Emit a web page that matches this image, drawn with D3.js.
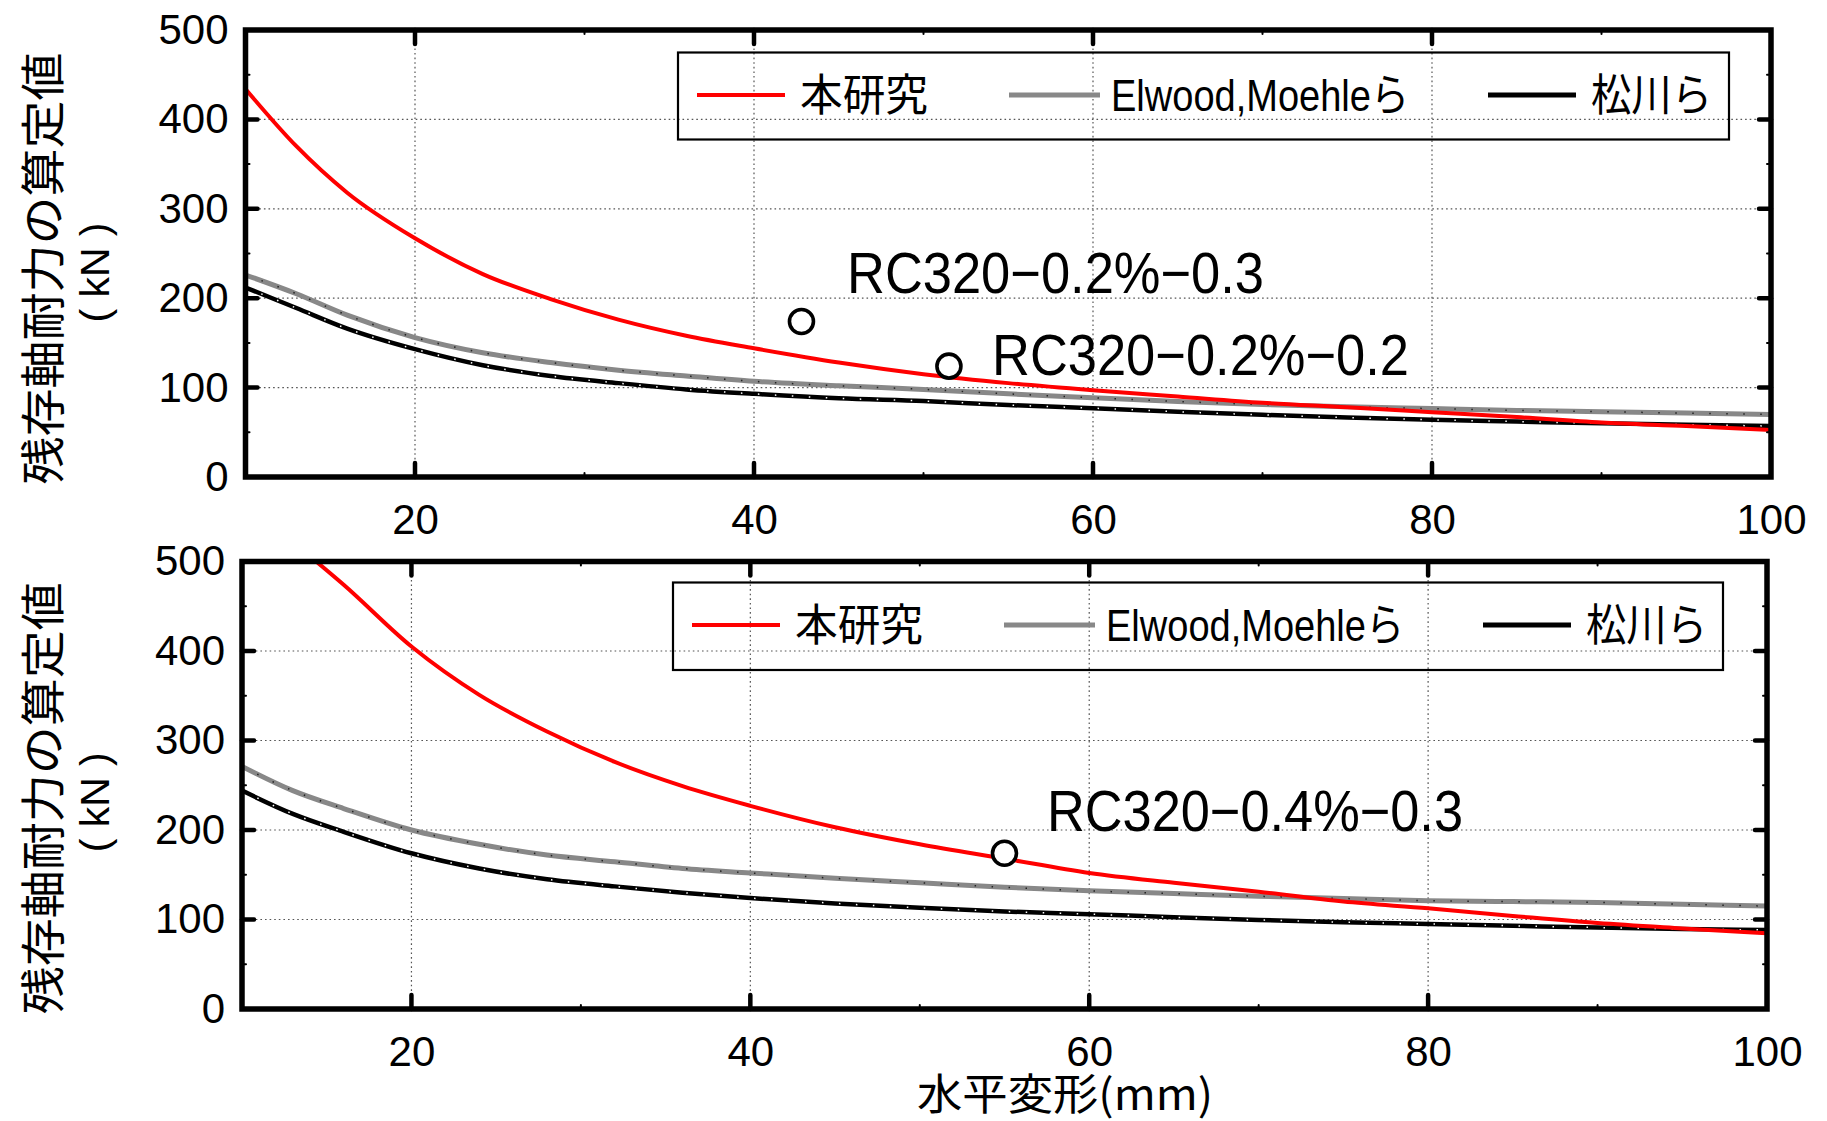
<!DOCTYPE html>
<html><head><meta charset="utf-8">
<script src="https://cdn.jsdelivr.net/npm/d3@7"></script>
<style>body{margin:0;background:#fff}svg{display:block}</style>
</head><body>
<svg id="c" width="1827" height="1121"></svg>
<script>
// ---------- data ----------
const xTickLabels = [20, 40, 60, 80, 100];
const yTickLabels = [0, 100, 200, 300, 400, 500];
const seriesNames = ["本研究", "Elwood,Moehleら", "松川ら"];

const xs = [10,13,16,20,24,28,32,36,40,45,50,55,60,65,70,75,80,85,90,95,100];

// top panel
const topRed   = [434,370,318,267,227,199,176,158,144,128,115,105,97,90,83,78,72.5,67,61,57,52.5];
const topGray  = [226,205,181,156,139,128,119.5,113,107,102,98,93,88.7,84.5,81,78.5,76.5,74.5,73,71.5,70];
const topBlack = [212,189,166,143,125,113,105,98,93,88,85,80.5,77,73,69.5,66.5,64,62,60,58.5,57];
const topPointsX = [42.8, 51.5];
const topPointsY = [174, 124];
const topLabels = ["RC320−0.2%−0.3", "RC320−0.2%−0.2"];

// bottom panel
const botRedX  = [14,16,20,24,28,32,36,40,45,50,55,60,65,70,75,80,85,90,95,100];
const botRed   = [506,474,405,351,310,276,249,227,203,184,168,152,141,131,120,112.5,104,96,90,84.5];
const botGray  = [271,244,224,200,184,172,164.5,157,152,146,141,136,132,129,126,123.5,121,120,119,117,115];
const botBlack = [244,218,198,174,157,145,137,130,124,118,113,109,106,102.5,99.5,97,95,93,91,89.5,88.3];
const botPointsX = [55];
const botPointsY = [174];
const botLabels = ["RC320−0.4%−0.3"];

// ---------- drawing ----------
const svg = d3.select("#c");
const FONT = "'Liberation Sans', Arial, 'Noto Sans CJK JP', sans-serif";
const JFONT = "'Noto Sans CJK JP', 'Liberation Sans', sans-serif";

function panel(cfg, idx) {
  const x = d3.scaleLinear().domain([10, 100]).range([cfg.left, cfg.right]);
  const y = d3.scaleLinear().domain([0, 500]).range([cfg.bottom, cfg.top]);
  const g = svg.append("g");
  const clipId = "clip" + idx;
  g.append("clipPath").attr("id", clipId).append("rect")
    .attr("x", cfg.left).attr("y", cfg.top)
    .attr("width", cfg.right - cfg.left).attr("height", cfg.bottom - cfg.top);

  // grid
  const grid = g.append("g").attr("stroke", "#555").attr("stroke-width", 1.2)
    .attr("stroke-dasharray", "1.6,3");
  [20, 40, 60, 80].forEach(v => grid.append("line")
    .attr("x1", x(v)).attr("x2", x(v)).attr("y1", cfg.top).attr("y2", cfg.bottom));
  [100, 200, 300, 400].forEach(v => grid.append("line")
    .attr("x1", cfg.left).attr("x2", cfg.right).attr("y1", y(v)).attr("y2", y(v)));

  // legend box
  const L = cfg.legend;
  g.append("rect").attr("x", L.x).attr("y", L.y).attr("width", L.w).attr("height", L.h)
    .attr("fill", "none").attr("stroke", "#000").attr("stroke-width", 2.2);
  const legColors = ["#ff0000", "#888888", "#000000"];
  const legWidths = [4, 5, 5];
  const legLine = [[L.x + 19, L.x + 107], [L.x + 331, L.x + 422], [L.x + 810, L.x + 898]];
  const legText = [[L.x + 122, 128], [L.x + 433, 298], [L.x + 913, 121]];
  const ly = L.y + 42.5;
  seriesNames.forEach((n, i) => {
    g.append("line").attr("x1", legLine[i][0]).attr("x2", legLine[i][1])
      .attr("y1", ly).attr("y2", ly).attr("stroke", legColors[i]).attr("stroke-width", legWidths[i]);
    g.append("text").attr("x", legText[i][0]).attr("y", ly + 16)
      .attr("font-family", FONT).attr("font-size", 44)
      .attr("textLength", legText[i][1]).attr("lengthAdjust", "spacingAndGlyphs")
      .text(n);
  });

  // series
  const line = d3.line().x(d => x(d[0])).y(d => y(d[1])).curve(d3.curveMonotoneX);
  const lg = g.append("g").attr("clip-path", `url(#${clipId})`).attr("fill", "none");
  const mk = (xa, ya) => xa.map((v, i) => [v, ya[i]]);
  lg.append("path").attr("d", line(mk(xs, cfg.gray))).attr("stroke", "#888").attr("stroke-width", 5);
  lg.append("path").attr("d", line(mk(xs, cfg.gray))).attr("stroke", "#222").attr("stroke-width", 1.5)
    .attr("stroke-dasharray", "1.5,15.5");
  lg.append("path").attr("d", line(mk(xs, cfg.black))).attr("stroke", "#000").attr("stroke-width", 4.5);
  lg.append("path").attr("d", line(mk(xs, cfg.black))).attr("stroke", "#fff").attr("stroke-width", 1.5)
    .attr("stroke-dasharray", "1.5,15.5");
  lg.append("path").attr("d", line(mk(cfg.redX, cfg.red))).attr("stroke", "#ff0000").attr("stroke-width", 4);

  // points
  cfg.px.forEach((v, i) => {
    g.append("circle").attr("cx", x(v)).attr("cy", y(cfg.py[i])).attr("r", 12)
      .attr("fill", "#fff").attr("stroke", "#000").attr("stroke-width", 3.6);
  });
  // annotations
  cfg.ann.forEach(a => {
    g.append("text").attr("x", a.x).attr("y", a.y).attr("font-family", FONT)
      .attr("font-size", 58).attr("textLength", a.w).attr("lengthAdjust", "spacingAndGlyphs")
      .text(a.t);
  });

  // frame
  g.append("rect").attr("x", cfg.left).attr("y", cfg.top)
    .attr("width", cfg.right - cfg.left).attr("height", cfg.bottom - cfg.top)
    .attr("fill", "none").attr("stroke", "#000").attr("stroke-width", 5.5);

  // ticks
  const tk = g.append("g").attr("stroke", "#000").attr("stroke-linecap", "round");
  [20, 40, 60, 80].forEach(v => {
    tk.append("line").attr("x1", x(v)).attr("x2", x(v)).attr("y1", cfg.bottom).attr("y2", cfg.bottom - 14).attr("stroke-width", 4.5);
    tk.append("line").attr("x1", x(v)).attr("x2", x(v)).attr("y1", cfg.top).attr("y2", cfg.top + 14).attr("stroke-width", 4.5);
  });
  [30, 50, 70, 90].forEach(v => {
    tk.append("line").attr("x1", x(v)).attr("x2", x(v)).attr("y1", cfg.bottom).attr("y2", cfg.bottom - 4).attr("stroke-width", 2);
    tk.append("line").attr("x1", x(v)).attr("x2", x(v)).attr("y1", cfg.top).attr("y2", cfg.top + 4).attr("stroke-width", 2);
  });
  [100, 200, 300, 400].forEach(v => {
    tk.append("line").attr("x1", cfg.left).attr("x2", cfg.left + 12).attr("y1", y(v)).attr("y2", y(v)).attr("stroke-width", 4.5);
    tk.append("line").attr("x1", cfg.right).attr("x2", cfg.right - 12).attr("y1", y(v)).attr("y2", y(v)).attr("stroke-width", 4.5);
  });
  [50, 150, 250, 350, 450].forEach(v => {
    tk.append("line").attr("x1", cfg.left).attr("x2", cfg.left + 4).attr("y1", y(v)).attr("y2", y(v)).attr("stroke-width", 2);
    tk.append("line").attr("x1", cfg.right).attr("x2", cfg.right - 4).attr("y1", y(v)).attr("y2", y(v)).attr("stroke-width", 2);
  });

  // axis labels via d3 axes
  const ax = g.append("g").attr("transform", `translate(0,${cfg.bottom})`)
    .call(d3.axisBottom(x).tickValues(xTickLabels).tickSize(0).tickPadding(27));
  const ay = g.append("g").attr("transform", `translate(${cfg.left},0)`)
    .call(d3.axisLeft(y).tickValues(yTickLabels).tickSize(0).tickPadding(17));
  [ax, ay].forEach(a => {
    a.select(".domain").remove();
    a.selectAll("text").attr("font-family", FONT).attr("font-size", 42).attr("fill", "#000");
  });

  // y title
  const cy = (cfg.top + cfg.bottom) / 2 + cfg.yTitleShift;
  g.append("text").attr("transform", `translate(${60},${cy}) rotate(-90)`)
    .attr("text-anchor", "middle").attr("font-family", JFONT).attr("font-size", 45)
    .attr("textLength", 432).attr("lengthAdjust", "spacingAndGlyphs").text("残存軸耐力の算定値");
  g.append("text").attr("transform", `translate(${109},${cy + 4}) rotate(-90)`)
    .attr("text-anchor", "middle").attr("font-family", FONT).attr("font-size", 41)
    .attr("textLength", 100).attr("lengthAdjust", "spacingAndGlyphs")
    .attr("xml:space", "preserve").text("( kN )");
}

panel({
  left: 245.5, right: 1771, top: 30, bottom: 477,
  red: topRed, redX: xs, gray: topGray, black: topBlack,
  px: topPointsX, py: topPointsY,
  ann: [{t: topLabels[0], x: 847, y: 293, w: 417}, {t: topLabels[1], x: 992, y: 375, w: 417}],
  legend: {x: 678, y: 52.5, w: 1051, h: 87},
  yTitleShift: 15
}, 0);

panel({
  left: 242, right: 1767, top: 561.5, bottom: 1009,
  red: botRed, redX: botRedX, gray: botGray, black: botBlack,
  px: botPointsX, py: botPointsY,
  ann: [{t: botLabels[0], x: 1047, y: 831, w: 416}],
  legend: {x: 673, y: 582.5, w: 1050, h: 87.5},
  yTitleShift: 13
}, 1);

svg.append("text").attr("x", 1065).attr("y", 1110).attr("text-anchor", "middle")
  .attr("font-family", JFONT).attr("font-size", 43)
  .attr("textLength", 296).attr("lengthAdjust", "spacingAndGlyphs").text("水平変形(mm)");
</script>
</body></html>
